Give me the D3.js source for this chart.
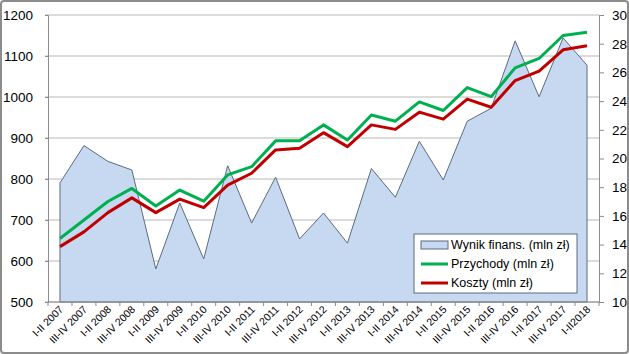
<!DOCTYPE html>
<html>
<head>
<meta charset="utf-8">
<script src="https://cdn.jsdelivr.net/npm/d3@7"></script>
<style>
  body { margin: 0; background: #fff; }
  svg { display: block; font-family: "Liberation Sans", Arial, sans-serif; }
</style>
</head>
<body>
<svg id="chart"></svg>
<script>
const categories = ["I-II 2007", "III-IV 2007", "I-II 2008", "III-IV 2008", "I-II 2009", "III-IV 2009",
  "I-II 2010", "III-IV 2010", "I-II 2011", "III-IV 2011", "I-II 2012", "III-IV 2012", "I-II 2013",
  "III-IV 2013", "I-II 2014", "III-IV 2014", "I-II 2015", "III-IV 2015", "I-II 2016", "III-IV 2016",
  "I-II 2017", "III-IV 2017", "I-II2018"];

// right axis (mln zł)
const wynik = [18.3, 20.9, 19.8, 19.2, 12.3, 16.9, 13.0, 19.5, 15.5, 18.7, 14.4, 16.2, 14.1,
  19.3, 17.3, 21.2, 18.5, 22.6, 23.5, 28.2, 24.3, 28.4, 26.5];

// left axis (mln zł)
const przychody = [655, 700, 745, 777, 734, 773, 746, 810, 830, 893, 893, 932, 895,
  956, 941, 988, 967, 1023, 1001, 1071, 1094, 1150, 1158];
const koszty = [635, 671, 718, 754, 718, 751, 730, 785, 814, 871, 875, 913, 879,
  932, 921, 963, 946, 995, 975, 1040, 1063, 1115, 1125];

const leftTicks = [500, 600, 700, 800, 900, 1000, 1100, 1200];
const rightTicks = [10, 12, 14, 16, 18, 20, 22, 24, 26, 28, 30];

const width = 629, height = 354;
const margin = { top: 15, right: 30, bottom: 52, left: 48 };

const svg = d3.select("#chart")
  .attr("width", width)
  .attr("height", height);

// outer frame
svg.append("rect")
  .attr("x", 1).attr("y", 1)
  .attr("width", width - 2).attr("height", height - 2)
  .attr("rx", 3)
  .attr("fill", "#fff")
  .attr("stroke", "#8c8c8c")
  .attr("stroke-width", 2);

const x = d3.scaleBand()
  .domain(categories)
  .range([margin.left, width - margin.right])
  .padding(0);

const yL = d3.scaleLinear().domain([500, 1200]).range([height - margin.bottom, margin.top]);
const yR = d3.scaleLinear().domain([10, 30]).range([height - margin.bottom, margin.top]);

const cx = d => x(d) + x.bandwidth() / 2;

// gridlines
svg.append("g")
  .selectAll("line")
  .data(leftTicks)
  .join("line")
    .attr("x1", margin.left - 3)
    .attr("x2", width - margin.right)
    .attr("y1", d => yL(d))
    .attr("y2", d => yL(d))
    .attr("stroke", "#b8b8b8")
    .attr("stroke-width", 1);

// area (right axis)
const area = d3.area()
  .x((d, i) => cx(categories[i]))
  .y0(yR(10))
  .y1(d => yR(d));

svg.append("path")
  .datum(wynik)
  .attr("d", area)
  .attr("fill", "#c6d9f1")
  .attr("stroke", "#5b6b80")
  .attr("stroke-width", 1);

// lines (left axis)
const line = d3.line()
  .x((d, i) => cx(categories[i]))
  .y(d => yL(d));

svg.append("path")
  .datum(przychody)
  .attr("d", line)
  .attr("fill", "none")
  .attr("stroke", "#00b050")
  .attr("stroke-width", 3)
  .attr("stroke-linejoin", "round");

svg.append("path")
  .datum(koszty)
  .attr("d", line)
  .attr("fill", "none")
  .attr("stroke", "#c00000")
  .attr("stroke-width", 3)
  .attr("stroke-linejoin", "round");

// left axis
svg.append("g")
  .attr("transform", `translate(${margin.left},0)`)
  .call(d3.axisLeft(yL).tickValues(leftTicks).tickFormat(d3.format("d")).tickSize(3).tickPadding(12))
  .call(g => {
    g.select(".domain").attr("stroke", "#8c8c8c");
    g.selectAll(".tick line").attr("stroke", "#8c8c8c");
    g.selectAll(".tick text").attr("font-size", 13.5).attr("fill", "#000")
      .attr("font-family", "Liberation Sans, Arial, sans-serif");
  });

// right axis
svg.append("g")
  .attr("transform", `translate(${width - margin.right},0)`)
  .call(d3.axisRight(yR).tickValues(rightTicks).tickSize(5).tickPadding(8))
  .call(g => {
    g.select(".domain").attr("stroke", "#8c8c8c");
    g.selectAll(".tick line").attr("stroke", "#8c8c8c");
    g.selectAll(".tick text").attr("font-size", 13.5).attr("fill", "#000")
      .attr("font-family", "Liberation Sans, Arial, sans-serif");
  });

// bottom axis: ticks between categories
const xAxis = svg.append("g")
  .attr("transform", `translate(0,${height - margin.bottom})`);

xAxis.append("line")
  .attr("x1", margin.left).attr("x2", width - margin.right)
  .attr("stroke", "#8c8c8c");

xAxis.selectAll(".sep")
  .data(categories.concat([null]))
  .join("line")
    .attr("class", "sep")
    .attr("x1", (d, i) => margin.left + i * x.step())
    .attr("x2", (d, i) => margin.left + i * x.step())
    .attr("y1", 0).attr("y2", 4)
    .attr("stroke", "#8c8c8c");

xAxis.selectAll(".lbl")
  .data(categories)
  .join("text")
    .attr("class", "lbl")
    .attr("text-anchor", "end")
    .attr("font-size", 10.5)
    .attr("transform", d => `translate(${cx(d) + 4},${8}) rotate(-45)`)
    .text(d => d);

// legend
const legend = svg.append("g").attr("transform", "translate(414,234)");
legend.append("rect")
  .attr("width", 163).attr("height", 59)
  .attr("fill", "#fff")
  .attr("stroke", "#5b6b80")
  .attr("stroke-width", 1);

const legendItems = [
  { label: "Wynik finans. (mln zł)", type: "area", color: "#c6d9f1" },
  { label: "Przychody (mln zł)", type: "line", color: "#00b050" },
  { label: "Koszty (mln zł)", type: "line", color: "#c00000" }
];

const li = legend.selectAll(".item")
  .data(legendItems)
  .join("g")
    .attr("class", "item")
    .attr("transform", (d, i) => `translate(7,${11 + i * 19})`);

li.filter(d => d.type === "area").append("rect")
  .attr("x", 0).attr("y", -4).attr("width", 27).attr("height", 8)
  .attr("fill", d => d.color)
  .attr("stroke", "#5b6b80");

li.filter(d => d.type === "line").append("line")
  .attr("x1", 0).attr("x2", 27)
  .attr("stroke", d => d.color)
  .attr("stroke-width", 3);

li.append("text")
  .attr("x", 30)
  .attr("dy", "0.35em")
  .attr("font-size", 12.5)
  .text(d => d.label);
</script>
</body>
</html>
